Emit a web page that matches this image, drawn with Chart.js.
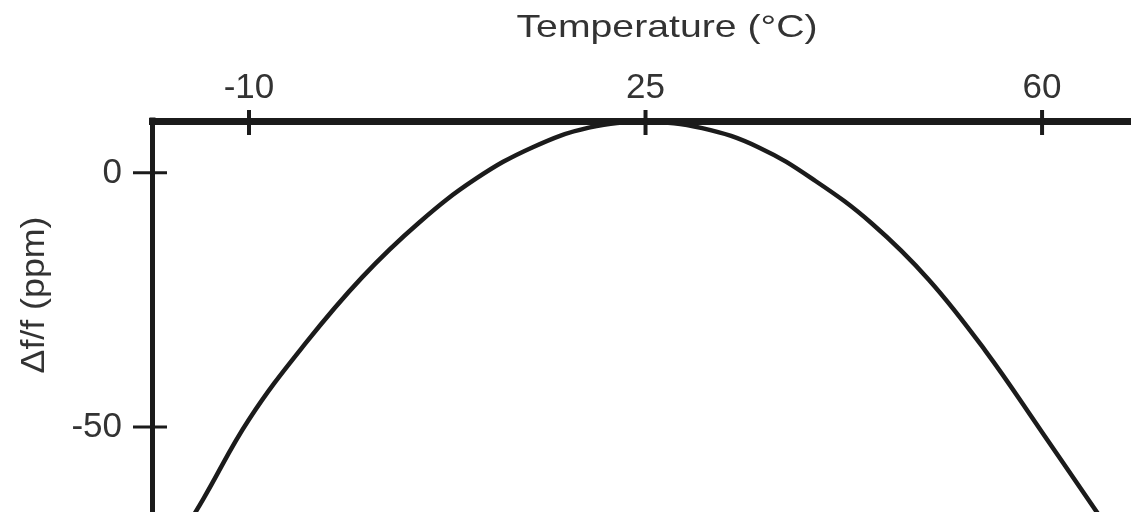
<!DOCTYPE html>
<html><head><meta charset="utf-8">
<script src="https://cdn.jsdelivr.net/npm/chart.js@4"></script>
<style>html,body{margin:0;padding:0;background:#fff;overflow:hidden}canvas{display:block}</style>
</head><body>
<canvas id="c" width="1131" height="512"></canvas>
<script>
// ---- data ----
const temperatures = [-18, -14, -10, -5, 0, 5, 10, 15, 20, 25, 30, 35, 40, 45, 50, 55, 60, 64, 68];
const deltaPpm     = [-79, -64, -48.5, -33.5, -20.5, -9.8, -1.2, 5.0, 8.9, 10.0, 8.8, 5.0, -1.6, -10.0, -21.0, -35.0, -51.0, -64.0, -77.0];
const xTickValues = [-10, 25, 60];
const yTickValues = [0, -50];
const xTitle = 'Temperature (°C)';
const yTitle = 'Δf/f (ppm)';

const INK = '#1b1b1b';
const TEXT = '#333333';
const FONT = '"Liberation Sans", Arial, sans-serif';

const points = temperatures.map((t, i) => ({x: t, y: deltaPpm[i]}));

const decorPlugin = {
  id: 'decor',
  afterDraw(chart) {
    const ctx = chart.ctx;
    const xs = chart.scales.x, ys = chart.scales.y;
    const ca = chart.chartArea;
    ctx.save();
    ctx.strokeStyle = INK;
    ctx.fillStyle = INK;
    // corner fill
    ctx.fillRect(ca.left - 2.5, ca.top - 3.5, 6, 7);
    // x ticks crossing the axis
    ctx.lineWidth = 4;
    xs.ticks.forEach(t => {
      const px = xs.getPixelForValue(t.value);
      ctx.beginPath(); ctx.moveTo(px, ca.top - 11); ctx.lineTo(px, ca.top + 14); ctx.stroke();
    });
    // y ticks crossing the axis
    ctx.lineWidth = 3;
    ys.ticks.forEach(t => {
      const py = ys.getPixelForValue(t.value);
      ctx.beginPath(); ctx.moveTo(ca.left - 19, py); ctx.lineTo(ca.left + 15, py); ctx.stroke();
    });
    // axis titles
    ctx.fillStyle = TEXT;
    ctx.textAlign = 'center';
    ctx.textBaseline = 'middle';
    ctx.font = '32px ' + FONT;
    let w = ctx.measureText(xTitle).width;
    ctx.save();
    ctx.translate(667, 28);
    ctx.scale(301 / w, 1);
    ctx.fillText(xTitle, 0, 0);
    ctx.restore();
    ctx.font = '30px ' + FONT;
    w = ctx.measureText(yTitle).width;
    ctx.save();
    ctx.translate(35, 295);
    ctx.rotate(-Math.PI / 2);
    ctx.scale(157 / w, 1.1);
    ctx.fillText(yTitle, 0, 0);
    ctx.restore();
    ctx.restore();
  }
};

new Chart(document.getElementById('c'), {
  type: 'line',
  data: {
    datasets: [{
      data: points,
      borderColor: INK,
      borderWidth: 4.5,
      pointRadius: 0,
      tension: 0.4,
      fill: false
    }]
  },
  options: {
    responsive: false,
    animation: false,
    layout: {padding: 0},
    plugins: {legend: {display: false}, tooltip: {enabled: false}},
    scales: {
      x: {
        type: 'linear',
        position: 'top',
        min: -18.56,
        max: 67.85,
        afterBuildTicks: s => { s.ticks = xTickValues.map(v => ({value: v})); },
        afterFit: s => { s.height = 121; s.paddingLeft = 0; s.paddingRight = 0; },
        grid: {display: false, drawTicks: false},
        border: {display: true, color: INK, width: 7},
        ticks: {color: TEXT, font: {size: 35, family: FONT}, padding: 12, maxRotation: 0, autoSkip: false}
      },
      y: {
        type: 'linear',
        position: 'left',
        min: -66.7,
        max: 10.2,
        afterBuildTicks: s => { s.ticks = yTickValues.map(v => ({value: v})); },
        afterFit: s => { s.width = 152; s.paddingTop = 0; s.paddingBottom = 0; },
        grid: {display: false, drawTicks: false},
        border: {display: true, color: INK, width: 5},
        ticks: {color: TEXT, font: {size: 35, family: FONT}, padding: 30, autoSkip: false}
      }
    }
  },
  plugins: [decorPlugin]
});
</script>
</body></html>
